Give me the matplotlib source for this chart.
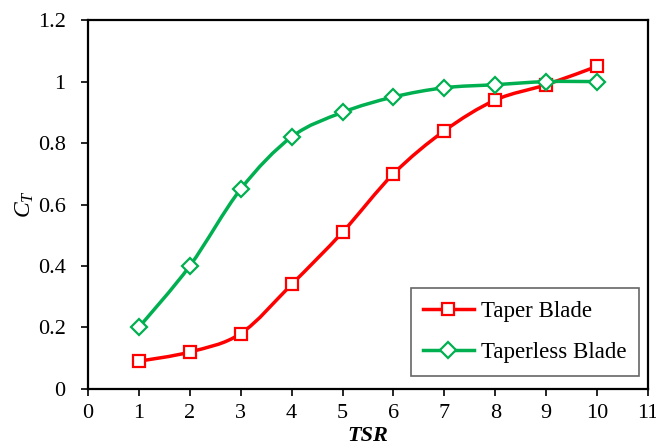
import numpy as np
import matplotlib
matplotlib.use("Agg")
import matplotlib.pyplot as plt
from matplotlib.path import Path
from matplotlib.patches import PathPatch
from matplotlib.lines import Line2D

# Podatki: TSR in koeficient potiska za obe lopatici
tsr = [1, 2, 3, 4, 5, 6, 7, 8, 9, 10]
ct_taper = [0.09, 0.12, 0.18, 0.34, 0.51, 0.70, 0.84, 0.94, 0.99, 1.05]
ct_taperless = [0.20, 0.40, 0.65, 0.82, 0.90, 0.95, 0.98, 0.99, 1.00, 1.00]

labels = ["Taper Blade", "Taperless Blade"]
colors = ["#FF0000", "#00B050"]
markers = ["s", "D"]

plt.rcParams["font.family"] = ["Liberation Serif", "DejaVu Serif"]
plt.rcParams["mathtext.fontset"] = "custom"
plt.rcParams["mathtext.it"] = "Liberation Serif:italic"
plt.rcParams["mathtext.rm"] = "Liberation Serif"


def smooth_path(x, y):
    # Glajena krivulja skozi točke (Bezier s kontrolnimi točkami po 1/6)
    x = np.asarray(x, float)
    y = np.asarray(y, float)
    pts = np.column_stack([x, y])
    verts = [pts[0]]
    codes = [Path.MOVETO]
    n = len(pts)
    for i in range(n - 1):
        p0 = pts[i - 1] if i > 0 else pts[i]
        p1 = pts[i]
        p2 = pts[i + 1]
        p3 = pts[i + 2] if i + 2 < n else pts[i + 1]
        c1 = p1 + (p2 - p0) / 6.0
        c2 = p2 - (p3 - p1) / 6.0
        verts += [c1, c2, p2]
        codes += [Path.CURVE4] * 3
    return Path(verts, codes)


fig = plt.figure(figsize=(6.56, 4.48), dpi=100)
ax = fig.add_axes([0.134, 0.132, 0.854, 0.823])

handles = []
for ys, lab, col, mk in zip([ct_taper, ct_taperless], labels, colors, markers):
    ms = 9 if mk == "s" else 8
    ax.add_patch(PathPatch(smooth_path(tsr, ys), facecolor="none",
                           edgecolor=col, linewidth=2.5, zorder=2))
    ax.plot(tsr, ys, linestyle="none", marker=mk, markersize=ms,
            markerfacecolor="white", markeredgecolor=col, markeredgewidth=1.6,
            zorder=3)
    handles.append(Line2D([], [], color=col, linewidth=2.5, marker=mk,
                          markersize=ms, markerfacecolor="white",
                          markeredgecolor=col, markeredgewidth=1.6))

ax.set_xlim(0, 11)
ax.set_ylim(0, 1.2)
ax.set_xticks(range(0, 12))
ax.set_yticks([0, 0.2, 0.4, 0.6, 0.8, 1.0, 1.2])
ax.set_yticklabels(["0", "0.2", "0.4", "0.6", "0.8", "1", "1.2"])
ax.tick_params(direction="out", length=5, width=1.2, labelsize=16)
ax.tick_params(axis="x", pad=6)
ax.tick_params(axis="y", pad=11)
for s in ax.spines.values():
    s.set_linewidth(1.6)

ax.set_xlabel("TSR", fontsize=16, fontweight="bold", style="italic", labelpad=2)
ax.set_ylabel("$C_T$", fontsize=17, labelpad=1)

leg = ax.legend(handles, labels, loc="lower right", fontsize=16.5,
                frameon=True, fancybox=False, edgecolor="#404040",
                handlelength=2.2, handletextpad=0.3, borderpad=0.55,
                labelspacing=0.9, borderaxespad=0,
                bbox_to_anchor=(0.983, 0.035))
leg.get_frame().set_linewidth(1.2)

fig.savefig("out.png", dpi=100)
